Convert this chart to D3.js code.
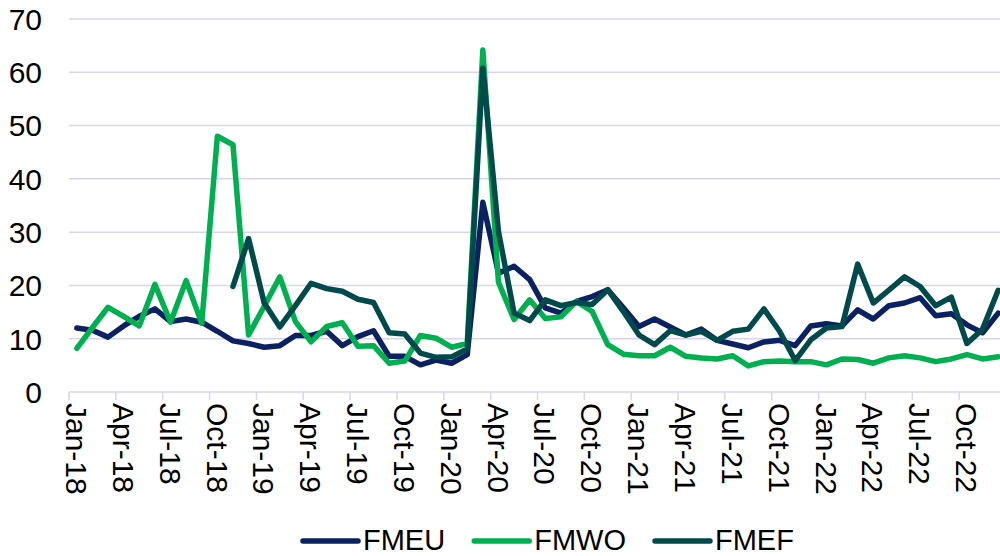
<!DOCTYPE html>
<html>
<head>
<meta charset="utf-8">
<script src="https://cdn.jsdelivr.net/npm/d3@7"></script>
<style>
  body { margin: 0; background: #fff; }
  svg { display: block; font-family: "Liberation Sans", Arial, sans-serif; }
</style>
</head>
<body>
<svg id="chart"></svg>
<script>
// monthly categories Jan-18 .. Dec-22
var monthNames = ["Jan","Feb","Mar","Apr","May","Jun","Jul","Aug","Sep","Oct","Nov","Dec"];
var years = ["18","19","20","21","22"];
var months = [];
years.forEach(function(y) { monthNames.forEach(function(m) { months.push(m + "-" + y); }); });

var tickLabels = ["Jan-18","Apr-18","Jul-18","Oct-18","Jan-19","Apr-19","Jul-19","Oct-19",
  "Jan-20","Apr-20","Jul-20","Oct-20","Jan-21","Apr-21","Jul-21","Oct-21",
  "Jan-22","Apr-22","Jul-22","Oct-22"];
var yTicks = [0, 10, 20, 30, 40, 50, 60, 70];

var fmeu = [12.0, 11.6, 10.3, 12.4, 14.2, 15.6, 13.2, 13.7, 13.1, 11.4, 9.6, 9.1,
  8.4, 8.7, 10.6, 10.6, 11.4, 8.7, 10.4, 11.5, 6.7, 6.7, 5.1, 6.0,
  5.4, 7.0, 35.6, 22.3, 23.6, 21.1, 15.8, 14.8, 17.0, 17.9, 19.2, 15.8,
  12.3, 13.7, 12.2, 10.7, 11.8, 9.7, 9.0, 8.3, 9.4, 9.7, 8.7, 12.4,
  12.8, 12.4, 15.4, 13.7, 16.2, 16.7, 17.7, 14.3, 14.7, 12.6, 11.1, 14.8];
var fmwo = [8.2, 12.1, 15.9, 14.2, 12.4, 20.2, 13.1, 20.9, 12.9, 48.0, 46.4, 10.7,
  16.1, 21.6, 13.2, 9.4, 12.3, 13.0, 8.6, 8.7, 5.4, 5.8, 10.6, 10.1,
  8.4, 9.1, 64.2, 20.6, 13.6, 17.3, 13.8, 14.1, 17.0, 15.1, 8.9, 7.1,
  6.8, 6.8, 8.4, 6.7, 6.4, 6.2, 6.8, 4.9, 5.7, 5.8, 5.7, 5.7,
  5.1, 6.2, 6.1, 5.4, 6.4, 6.8, 6.4, 5.7, 6.2, 7.0, 6.2, 6.6];
var fmef = [null, null, null, null, null, null, null, null, null, null, 19.8, 28.8,
  16.7, 12.2, 16.2, 20.4, 19.4, 18.9, 17.4, 16.8, 11.1, 10.9, 7.3, 6.5,
  6.6, 8.1, 60.8, 30.1, 14.8, 13.4, 17.3, 16.2, 16.8, 16.4, 19.2, 15.1,
  10.7, 8.9, 11.5, 10.7, 11.4, 9.7, 11.4, 11.8, 15.6, 11.4, 5.9, 9.8,
  12.0, 12.3, 24.0, 16.7, 19.1, 21.6, 19.8, 16.2, 17.8, 9.1, 11.8, 19.1];

var seriesNames = ["FMEU", "FMWO", "FMEF"];
var seriesValues = [fmeu, fmwo, fmef];
var colors = ["#0b2162", "#00b050", "#004a4b"];

var svgWidth = 1000, svgHeight = 556;
var svg = d3.select("#chart").attr("width", svgWidth).attr("height", svgHeight);

var plotLeft = 69, plotRight = 1006, plotTop = 19, plotBottom = 392;

var x = d3.scaleBand().domain(months).range([plotLeft, plotRight]).padding(0);
var y = d3.scaleLinear().domain([0, 70]).range([plotBottom, plotTop]);
var bw = x.bandwidth();

// grid lines
svg.append("g").selectAll("line")
  .data(yTicks)
  .enter().append("line")
  .attr("x1", plotLeft).attr("x2", svgWidth)
  .attr("y1", function(d) { return y(d); })
  .attr("y2", function(d) { return y(d); })
  .attr("stroke", "#d9d5f0")
  .attr("stroke-width", 1.5);

// y labels
svg.append("g").selectAll("text")
  .data(yTicks)
  .enter().append("text")
  .attr("x", 42)
  .attr("y", function(d) { return y(d); })
  .attr("dy", "0.36em")
  .attr("text-anchor", "end")
  .attr("font-size", 30)
  .attr("fill", "#000")
  .text(function(d) { return d; });

// x ticks at category boundaries, every 3 months
var tickCats = months.filter(function(m) { return tickLabels.indexOf(m) >= 0; });
svg.append("g").selectAll("line")
  .data(tickCats)
  .enter().append("line")
  .attr("x1", function(d) { return x(d); })
  .attr("x2", function(d) { return x(d); })
  .attr("y1", plotBottom).attr("y2", plotBottom + 8)
  .attr("stroke", "#d9d5f0")
  .attr("stroke-width", 1.5);

svg.append("g").selectAll("text")
  .data(tickCats)
  .enter().append("text")
  .attr("transform", function(d) {
    return "translate(" + (x(d) + bw / 2) + "," + (plotBottom + 11) + ") rotate(90)";
  })
  .attr("dy", "0.36em")
  .attr("text-anchor", "start")
  .attr("font-size", 30)
  .attr("fill", "#000")
  .text(function(d) { return d; });

// lines
var line = d3.line()
  .defined(function(d) { return d.value != null; })
  .x(function(d) { return x(d.cat) + bw / 2; })
  .y(function(d) { return y(d.value); });

seriesValues.forEach(function(vals, i) {
  var data = months.map(function(m, j) { return { cat: m, value: vals[j] }; });
  svg.append("path")
    .datum(data)
    .attr("fill", "none")
    .attr("stroke", colors[i])
    .attr("stroke-width", 5.5)
    .attr("stroke-linejoin", "round")
    .attr("stroke-linecap", "round")
    .attr("d", line);
});

// legend
var legend = svg.append("g").attr("transform", "translate(303,541)");
var lx = 0;
seriesNames.forEach(function(name, i) {
  var g = legend.append("g").attr("transform", "translate(" + lx + ",0)");
  g.append("line")
    .attr("x1", 0).attr("x2", 55)
    .attr("y1", 0).attr("y2", 0)
    .attr("stroke", colors[i])
    .attr("stroke-width", 5.5)
    .attr("stroke-linecap", "round");
  var t = g.append("text")
    .attr("x", 60)
    .attr("y", 9)
    .attr("font-size", 29)
    .attr("fill", "#000")
    .text(name);
  lx += 60 + t.node().getComputedTextLength() + 29;
});
</script>
</body>
</html>
